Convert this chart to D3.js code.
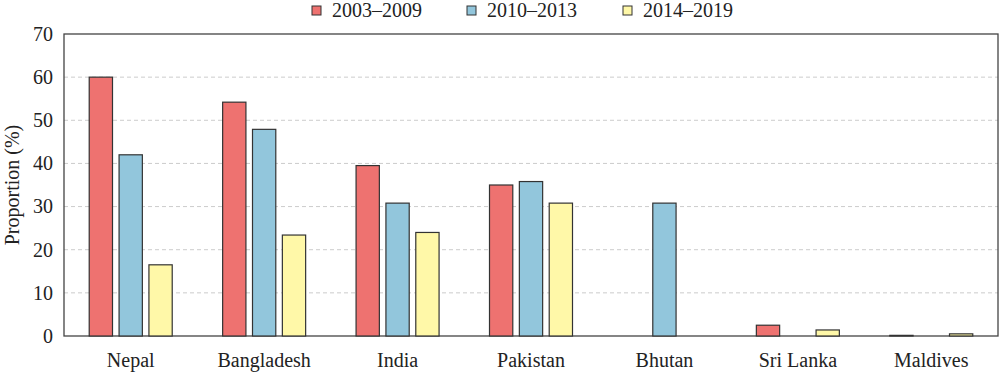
<!DOCTYPE html>
<html><head><meta charset="utf-8">
<script src="https://cdn.jsdelivr.net/npm/d3@7"></script>
</head><body style="margin:0;background:#fff"><svg id="c" width="1000" height="379" style="display:block"></svg>
<script>
const countries = ["Nepal","Bangladesh","India","Pakistan","Bhutan","Sri Lanka","Maldives"];
const seriesNames = ["2003–2009","2010–2013","2014–2019"];
const s2003 = [60, 54.2, 39.5, 35, null, 2.5, 0.15];
const s2010 = [42, 47.9, 30.8, 35.8, 30.8, null, null];
const s2014 = [16.5, 23.4, 24, 30.8, null, 1.4, 0.5];
const yTicks = [0,10,20,30,40,50,60,70];
const colors = ["#EE7270","#92C6DC","#FFF8A8"];
const FONT = '"Liberation Serif"';

const svg = d3.select("#c");
const m = {l:64, r:998, t:34, b:336};
const x = d3.scaleBand().domain(countries).range([m.l, m.r]).paddingInner(0).paddingOuter(0);
const xs = d3.scaleBand().domain(seriesNames).range([x.bandwidth()/2-41.5, x.bandwidth()/2+41.5]).paddingInner(0.22).paddingOuter(0);
const y = d3.scaleLinear().domain([0,70]).range([m.b, m.t]);

// grid
svg.append("g").selectAll("line").data(yTicks.filter(d=>d>0&&d<70)).join("line")
  .attr("x1", m.l).attr("x2", m.r).attr("y1", d=>y(d)).attr("y2", d=>y(d))
  .attr("stroke", "#ccc").attr("stroke-dasharray","4,3").attr("stroke-width",1);

// frame
svg.append("rect").attr("x", m.l).attr("y", m.t).attr("width", m.r-m.l).attr("height", m.b-m.t)
  .attr("fill","none").attr("stroke","#444").attr("stroke-width",1.3);

// bars
const series = [s2003, s2010, s2014];
series.forEach((arr, si) => {
  svg.append("g").selectAll("rect").data(countries.map((c,i)=>({c, v:arr[i]})).filter(d=>d.v!=null)).join("rect")
    .attr("x", d=>x(d.c)+xs(seriesNames[si]))
    .attr("width", xs.bandwidth())
    .attr("y", d=>y(d.v))
    .attr("height", d=>y(0)-y(d.v))
    .attr("fill", colors[si]).attr("stroke","#333").attr("stroke-width",1.2);
});

// y axis
const ya = svg.append("g").attr("transform",`translate(${m.l},0)`)
  .call(d3.axisLeft(y).tickValues(yTicks).tickSize(0).tickPadding(11).tickFormat(d3.format("d")));
ya.attr("font-family", null).attr("font-size", null);
ya.select(".domain").remove();
ya.selectAll("text").style("font-family",FONT).style("font-size","20px").attr("fill","#222");

// x axis
const xa = svg.append("g").attr("transform",`translate(0,${m.b})`)
  .call(d3.axisBottom(x).tickSize(0).tickPadding(17));
xa.attr("font-family", null).attr("font-size", null);
xa.select(".domain").remove();
xa.selectAll("text").style("font-family",FONT).style("font-size","20px").attr("fill","#222");

// y title
svg.append("text").attr("transform",`translate(19,${(m.t+m.b)/2}) rotate(-90)`)
  .attr("text-anchor","middle").style("font-family",FONT).style("font-size","20px").attr("fill","#222").text("Proportion (%)");

// legend
const legX = [312, 467, 623];
const lg = svg.append("g");
seriesNames.forEach((n,i)=>{
  lg.append("rect").attr("x", legX[i]).attr("y", 6).attr("width", 9).attr("height", 9)
    .attr("fill", colors[i]).attr("stroke","#333").attr("stroke-width",1);
  lg.append("text").attr("x", legX[i]+20).attr("y", 17).style("font-family",FONT).style("font-size","20px").attr("fill","#222").text(n);
});
</script></body></html>
